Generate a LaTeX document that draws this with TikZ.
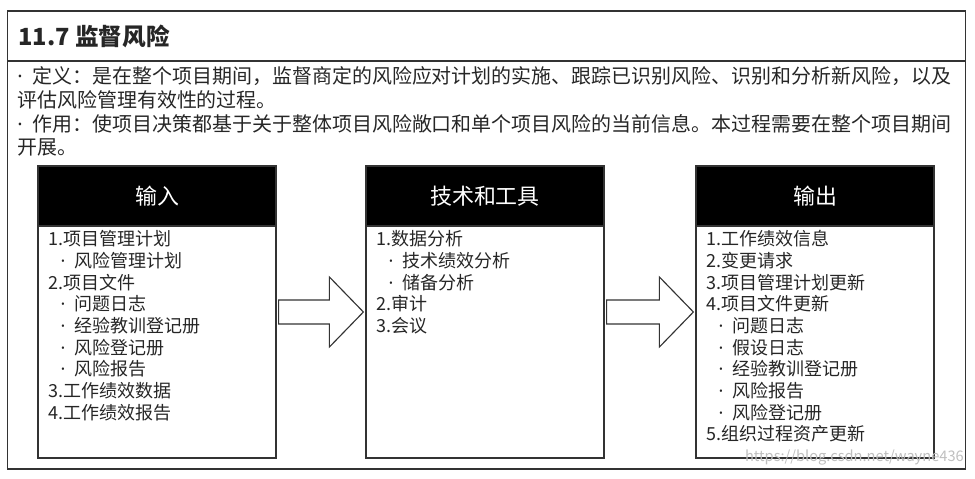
\documentclass[tikz,border=0pt]{standalone}
\usepackage{fontspec}
\setmainfont{Noto Sans CJK SC}
\newfontfamily\latinfont{Noto Sans}
\newcommand\pdot{{\latinfont ·}\hspace{0.5em}}
\usetikzlibrary{positioning,calc}
\begin{document}
\begin{tikzpicture}[
    x=0.025cm, y=-0.025cm,
    every node/.style={text=black!85},
    line/.style={draw=black!80, line width=0.8pt},
    page/.style={line, minimum width=239.25mm, minimum height=114.5mm, inner sep=0pt},
    titletext/.style={font=\fontsize{16.8pt}{20pt}\selectfont\bfseries, inner sep=0pt},
    bodytext/.style={font=\fontsize{14.2pt}{17pt}\selectfont, align=left, inner sep=0pt},
    stagebox/.style={line, minimum width=59.5mm, minimum height=73mm, inner sep=0pt},
    stagehead/.style={line, fill=black, text=white, minimum width=59.5mm, minimum height=15mm,
        font=\fontsize{15.6pt}{18pt}\selectfont, inner sep=0pt},
    itemlist/.style={font=\fontsize{12.8pt}{15.4pt}\selectfont, align=left, inner sep=0pt, anchor=north west},
    blockarrow/.style={line, fill=white, line join=miter},
    watermark/.style={text=black!25, font=\fontsize{10.4pt}{12pt}\selectfont, inner sep=0pt}
]
\useasboundingbox (0,0) rectangle (975,479);

% frame and title
\node[page] (frame) at (486.5,240) {};
\coordinate (sep) at (0,61);
\draw[line] (frame.west |- sep) -- (frame.east |- sep);
\node[titletext, anchor=west] (title) at (18,36) {11.7 监督风险};
\node[bodytext, anchor=north west] (def) at (17,66)
    {\pdot 定义：是在整个项目期间，监督商定的风险应对计划的实施、跟踪已识别风险、识别和分析新风险，以及\\
     评估风险管理有效性的过程。\\
     \pdot 作用：使项目决策都基于关于整体项目风险敞口和单个项目风险的当前信息。本过程需要在整个项目期间\\
     开展。};

% three stages
\foreach \name/\cx/\head in {in/157/输入, tool/485/技术和工具, out/815/输出} {
    \node[stagebox] (\name) at (\cx,312) {};
    \node[stagehead, anchor=north] (\name head) at (\name.north) {\head};
}

\node[itemlist] (inlist) at ($(in.north west)+(11,65)$)
    {1.项目管理计划\\
     \hspace*{3mm}\pdot 风险管理计划\\
     2.项目文件\\
     \hspace*{3mm}\pdot 问题日志\\
     \hspace*{3mm}\pdot 经验教训登记册\\
     \hspace*{3mm}\pdot 风险登记册\\
     \hspace*{3mm}\pdot 风险报告\\
     3.工作绩效数据\\
     4.工作绩效报告};
\node[itemlist] (toollist) at ($(tool.north west)+(11,65)$)
    {1.数据分析\\
     \hspace*{3mm}\pdot 技术绩效分析\\
     \hspace*{3mm}\pdot 储备分析\\
     2.审计\\
     3.会议};
\node[itemlist] (outlist) at ($(out.north west)+(11,65)$)
    {1.工作绩效信息\\
     2.变更请求\\
     3.项目管理计划更新\\
     4.项目文件更新\\
     \hspace*{3mm}\pdot 问题日志\\
     \hspace*{3mm}\pdot 假设日志\\
     \hspace*{3mm}\pdot 经验教训登记册\\
     \hspace*{3mm}\pdot 风险报告\\
     \hspace*{3mm}\pdot 风险登记册\\
     5.组织过程资产更新};

% block arrows between stages
\foreach \a/\b in {in/tool, tool/out}
    \draw[blockarrow] ($(\a.east)+(2,-12)$) -- ($(\b.west)+(-36,-12)$) -- ($(\b.west)+(-36,-35)$)
        -- ($(\b.west)+(-2,0)$) -- ($(\b.west)+(-36,35)$) -- ($(\b.west)+(-36,12)$)
        -- ($(\a.east)+(2,12)$) -- cycle;

\node[watermark, anchor=east] (mark) at (964,458) {https://blog.csdn.net/wayne436};
\end{tikzpicture}
\end{document}
